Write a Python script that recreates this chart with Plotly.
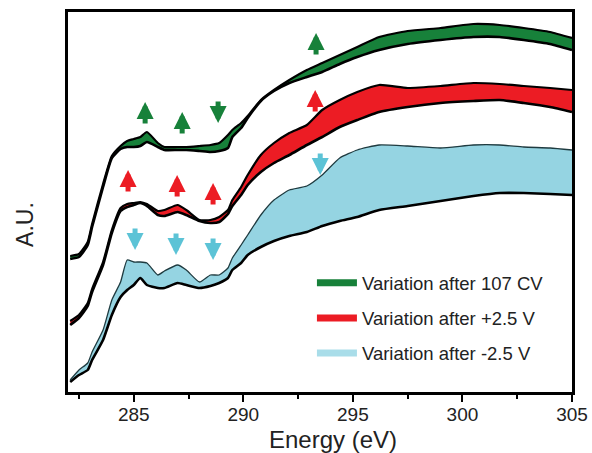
import plotly.graph_objects as go

energy = [282.1, 282.5, 282.9, 283.1, 283.6, 284.0, 284.4, 284.7, 285.0, 285.3, 285.6, 286.1,
          286.4, 287.0, 287.4, 288.0, 288.5, 288.9, 289.3, 289.5, 289.9, 290.2, 290.8, 291.4,
          292.1, 292.9, 293.6, 294.4, 295.2, 296.2, 297.5, 299.0, 300.5, 301.7, 302.8, 304.0, 305.0]

green_after = [1.36, 1.38, 1.50, 1.68, 2.08, 2.36, 2.46, 2.51, 2.53, 2.55, 2.60, 2.49, 2.45, 2.45,
               2.45, 2.46, 2.47, 2.49, 2.57, 2.62, 2.69, 2.76, 2.92, 3.02, 3.12, 3.22, 3.29, 3.37,
               3.45, 3.55, 3.61, 3.64, 3.68, 3.67, 3.64, 3.60, 3.54]
green_before = [1.33, 1.35, 1.47, 1.65, 2.05, 2.34, 2.43, 2.45, 2.45, 2.46, 2.50, 2.45, 2.42, 2.42,
                2.42, 2.41, 2.40, 2.41, 2.44, 2.55, 2.64, 2.74, 2.91, 3.01, 3.09, 3.15, 3.20, 3.28,
                3.35, 3.42, 3.48, 3.52, 3.55, 3.55, 3.52, 3.48, 3.42]

red_after = [0.71, 0.77, 0.89, 1.03, 1.30, 1.62, 1.84, 1.88, 1.89, 1.90, 1.88, 1.81, 1.82, 1.87,
             1.82, 1.72, 1.72, 1.75, 1.82, 1.92, 2.05, 2.17, 2.37, 2.49, 2.59, 2.67, 2.82, 2.92,
             3.00, 3.07, 3.04, 3.06, 3.09, 3.08, 3.06, 3.04, 3.02]
red_before = [0.67, 0.74, 0.86, 1.00, 1.27, 1.59, 1.81, 1.85, 1.87, 1.89, 1.86, 1.77, 1.76, 1.80,
              1.77, 1.71, 1.69, 1.70, 1.78, 1.86, 1.97, 2.07, 2.20, 2.29, 2.37, 2.47, 2.55, 2.65,
              2.72, 2.80, 2.85, 2.89, 2.91, 2.92, 2.89, 2.85, 2.80]

cyan_before = [0.12, 0.22, 0.29, 0.40, 0.62, 0.92, 1.10, 1.32, 1.30, 1.30, 1.29, 1.17, 1.21, 1.27,
               1.22, 1.10, 1.17, 1.17, 1.24, 1.34, 1.47, 1.57, 1.77, 1.92, 2.02, 2.06, 2.17, 2.34,
               2.42, 2.47, 2.46, 2.44, 2.47, 2.47, 2.45, 2.44, 2.42]
cyan_after = [0.10, 0.17, 0.22, 0.32, 0.52, 0.77, 0.95, 1.02, 1.07, 1.14, 1.07, 1.04, 1.04, 1.09,
              1.07, 1.04, 1.06, 1.09, 1.14, 1.22, 1.29, 1.37, 1.45, 1.51, 1.56, 1.60, 1.66, 1.71,
              1.75, 1.82, 1.86, 1.91, 1.96, 1.99, 1.99, 1.98, 1.97]

legend_names = ["Variation after 107 CV", "Variation after +2.5 V", "Variation after -2.5 V"]
x_title = "Energy (eV)"
y_title = "A.U."
x_tickvals = [285, 290, 295, 300, 305]

# arrow tips (energy, intensity, direction)
arrow_green = [(285.52, 2.90, "up"), (287.21, 2.80, "up"), (288.85, 2.69, "down"), (293.32, 3.59, "up")]
arrow_red = [(284.74, 2.22, "up"), (286.98, 2.17, "up"), (288.62, 2.09, "up"), (293.28, 3.02, "up")]
arrow_cyan = [(285.06, 1.42, "down"), (286.93, 1.37, "down"), (288.62, 1.32, "down"), (293.51, 2.17, "down")]

GREEN = "#17813a"
RED = "#ec1c24"
CYAN = "#95d4e2"
CYAN_ARROW = "#5cc3d6"
LEG_CYAN = "#a9dde9"
FONT = "Liberation Sans, Arial, sans-serif"

fig = go.Figure()

bands = [
    (green_before, green_after, GREEN, "black", 2.2),
    (red_before, red_after, RED, "black", 2.2),
    (cyan_after, cyan_before, CYAN, "#1f3b40", 1.3),
]
for low, high, col, topcol, topw in bands:
    fig.add_trace(go.Scatter(x=energy, y=low, mode="lines", showlegend=False,
                             line=dict(color="black", width=2.6, shape="spline", smoothing=0.5),
                             hoverinfo="skip"))
    fig.add_trace(go.Scatter(x=energy, y=high, mode="lines", showlegend=False, fill="tonexty",
                             fillcolor=col,
                             line=dict(color=topcol, width=topw, shape="spline", smoothing=0.5),
                             hoverinfo="skip"))

for name, col, grp in zip(legend_names, [GREEN, RED, LEG_CYAN], ["g", "r", "c"]):
    fig.add_trace(go.Scatter(x=[None], y=[None], mode="lines", name=name, legendgroup=grp,
                             line=dict(color=col, width=7)))

annotations = []
for arrows, col in [(arrow_green, GREEN), (arrow_red, RED), (arrow_cyan, CYAN_ARROW)]:
    for xe, ye, d in arrows:
        annotations.append(dict(x=xe, y=ye, xref="x", yref="y", text="", showarrow=True,
                                ax=0, ay=23 if d == "up" else -23,
                                arrowhead=2, arrowsize=0.68, arrowwidth=5, arrowcolor=col))

annotations.append(dict(text=y_title, xref="paper", yref="paper", x=-0.085, y=0.44,
                        xanchor="center", yanchor="middle", textangle=-90, showarrow=False,
                        font=dict(family=FONT, size=23, color="#222")))
annotations.append(dict(text=x_title, xref="paper", yref="paper", x=0.526, y=-0.124,
                        xanchor="center", yanchor="middle", showarrow=False,
                        font=dict(family=FONT, size=24, color="#222")))

fig.update_layout(
    width=592, height=453,
    margin=dict(l=68, r=20, t=12, b=61, autoexpand=False),
    paper_bgcolor="white", plot_bgcolor="white",
    font=dict(family=FONT, color="#222"),
    annotations=annotations,
    showlegend=True,
    legend=dict(x=0.484, y=0.336, xanchor="left", yanchor="top", traceorder="grouped",
                tracegroupgap=8, itemwidth=40, bgcolor="rgba(0,0,0,0)",
                font=dict(size=18.5, color="#222")),
    xaxis=dict(range=[282, 305], showline=True, linecolor="black", linewidth=2.5, mirror=True,
               ticks="outside", ticklen=7, tickwidth=2, tickcolor="black", tickvals=x_tickvals,
               minor=dict(dtick=2.5, tick0=282.5, ticks="outside", ticklen=4, tickwidth=1.5,
                          tickcolor="black"),
               showgrid=False, zeroline=False, automargin=False, ticklabelstandoff=-4,
               tickfont=dict(size=19, color="#222")),
    yaxis=dict(range=[0, 3.8], showline=True, linecolor="black", linewidth=2.5, mirror=True,
               showticklabels=False, ticks="", showgrid=False, zeroline=False, automargin=False),
)

fig.write_html("out.html")
